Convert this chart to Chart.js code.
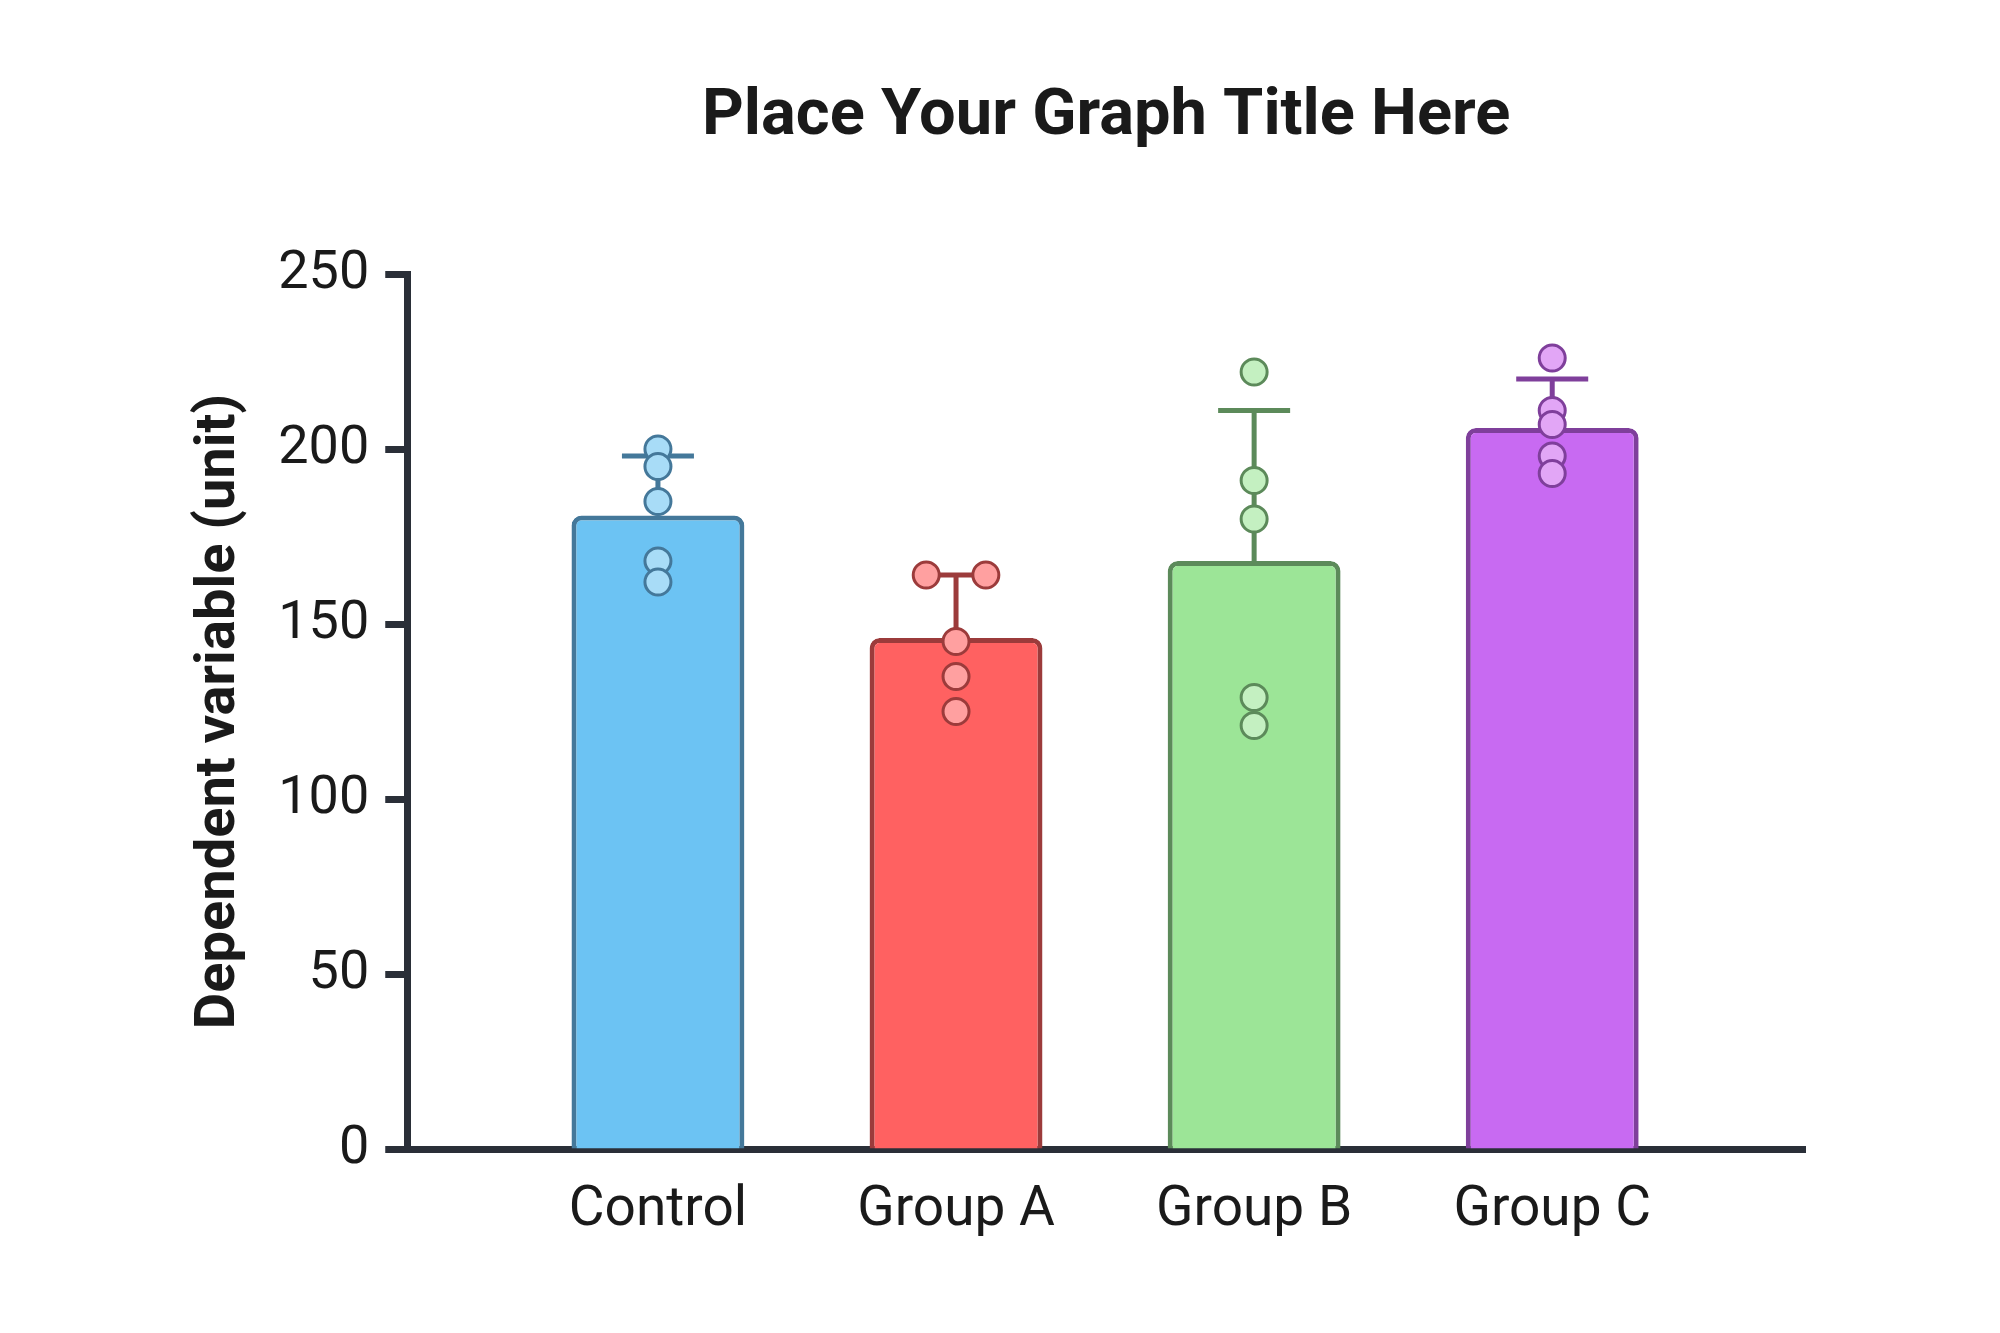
<!DOCTYPE html>
<html>
<head>
<meta charset="utf-8">
<script src="https://cdn.jsdelivr.net/npm/chart.js@4.4.0/dist/chart.umd.min.js"></script>
<style>
    html, body { margin: 0; padding: 0; background: #ffffff; }
    #wrap { width: 2000px; height: 1333px; }
</style>
</head>
<body>
<div id="wrap"><canvas id="GroupChart" width="2000" height="1333"></canvas></div>
<script>
var Categories = ['Control', 'Group A', 'Group B', 'Group C'];
var Means = [181, 146, 168, 206];
var Errors = [17, 18, 43, 14];
var ControlPoints = [200, 195, 185, 168, 162];
var GroupAPoints = [164, 164, 145, 135, 125];
var GroupBPoints = [222, 191, 180, 129, 121];
var GroupCPoints = [226, 211, 207, 198, 193];
var YTicks = [0, 50, 100, 150, 200, 250];

var BarFill = ['#6cc3f3', '#ff6161', '#9ce597', '#c86af2'];
var BarLine = ['#44789a', '#9c3b3b', '#5c8a5a', '#7f3f9b'];
var DotFill = ['#a8dcf7', '#ffa0a0', '#c4f0c1', '#e2a6f6'];
var AxisColor = '#2a2f38';

// spread identical values sideways so they don't sit on top of each other
function BuildPoints(values, idx) {
    var pts = [];
    values.forEach(function (v) {
        var same = values.filter(function (w) { return w === v; }).length;
        var k = pts.filter(function (p) { return p.y === v; }).length;
        pts.push({ x: idx + (k - (same - 1) / 2) * 0.2, y: v });
    });
    return pts;
}

var ErrorBarPlugin = {
    id: 'errorBars',
    afterDatasetDraw: function (chart, args) {
        if (args.index !== 0) return;
        var ctx = chart.ctx, xs = chart.scales.x, ys = chart.scales.y;
        ctx.save();
        ctx.lineWidth = 5;
        Means.forEach(function (m, i) {
            var x = xs.getPixelForValue(i);
            var y0 = ys.getPixelForValue(m);
            var y1 = ys.getPixelForValue(m + Errors[i]);
            ctx.strokeStyle = BarLine[i];
            ctx.beginPath();
            ctx.moveTo(x, y0);
            ctx.lineTo(x, y1);
            ctx.moveTo(x - 36, y1);
            ctx.lineTo(x + 36, y1);
            ctx.stroke();
        });
        ctx.restore();
    }
};

$ = function (sel) { return document.querySelector(sel); };

function InitializeGraph() {
    var allPoints = [ControlPoints, GroupAPoints, GroupBPoints, GroupCPoints];
    var dots = [], dotFill = [], dotLine = [];
    allPoints.forEach(function (vals, i) {
        BuildPoints(vals, i).forEach(function (p) {
            dots.push(p);
            dotFill.push(DotFill[i]);
            dotLine.push(BarLine[i]);
        });
    });

    new Chart($('#GroupChart'), {
        type: 'bar',
        data: {
            datasets: [{
                type: 'bar',
                data: Means.map(function (m, i) { return { x: i, y: m }; }),
                backgroundColor: BarFill,
                borderColor: BarLine,
                borderWidth: 5,
                borderRadius: 10,
                borderSkipped: 'start',
                barPercentage: 0.58,
                categoryPercentage: 1,
                order: 1
            }, {
                type: 'scatter',
                data: dots,
                backgroundColor: dotFill,
                borderColor: dotLine,
                borderWidth: 3,
                pointRadius: 13,
                order: 0
            }]
        },
        options: {
            responsive: false,
            animation: false,
            layout: { padding: { left: 186, right: 195, top: 79, bottom: 60 } },
            plugins: {
                legend: { display: false },
                tooltip: { enabled: false },
                title: {
                    display: true,
                    text: 'Place Your Graph Title Here',
                    fullSize: false,
                    color: '#1a1a1a',
                    font: { family: 'Roboto', size: 65, weight: 'bold' },
                    padding: { top: 0, bottom: 117 }
                }
            },
            scales: {
                x: {
                    type: 'linear',
                    offset: false,
                    min: -0.841,
                    max: 3.848,
                    afterBuildTicks: function (scale) {
                        scale.ticks = Categories.map(function (c, i) { return { value: i }; });
                    },
                    grid: { display: false, drawTicks: false },
                    border: { display: true, color: AxisColor, width: 7 },
                    ticks: {
                        color: '#1a1a1a',
                        padding: 29,
                        font: { family: 'Roboto', size: 55 },
                        callback: function (v) { return Categories[v]; }
                    }
                },
                y: {
                    min: 0,
                    max: 250,
                    afterBuildTicks: function (scale) {
                        scale.ticks = YTicks.map(function (v) { return { value: v }; });
                    },
                    grid: {
                        drawOnChartArea: false,
                        drawTicks: true,
                        tickLength: 22,
                        tickWidth: 7,
                        tickColor: AxisColor
                    },
                    border: { display: true, color: AxisColor, width: 7 },
                    ticks: {
                        color: '#1a1a1a',
                        padding: 16,
                        font: { family: 'Roboto', size: 54 }
                    },
                    title: {
                        display: true,
                        text: 'Dependent variable (unit)',
                        color: '#1a1a1a',
                        font: { family: 'Roboto', size: 56, weight: 'bold' },
                        padding: { top: 0, bottom: 9 }
                    }
                }
            }
        },
        plugins: [ErrorBarPlugin]
    });
}

InitializeGraph();
</script>
</body>
</html>
